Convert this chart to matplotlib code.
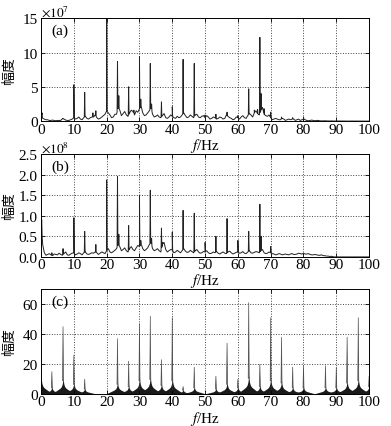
import numpy as np
import matplotlib
matplotlib.use('Agg')
import matplotlib.pyplot as plt

plt.rcParams['font.family'] = ['Liberation Serif', 'Noto Sans CJK SC']
plt.rcParams['mathtext.fontset'] = 'stix'
plt.rcParams['font.size'] = 11

base_f = np.arange(0, 101)
mid_f = np.arange(0, 100) + 0.5

# ---- panel (a), units 1e7 ----
a_base = [1.2, 0.3, 0.2, 0.1, 0.1, 0.1, 0.1, 0.3, 0.1, 0.2,
          0.5, 0.4, 0.3, 0.5, 0.4, 0.5, 0.6, 0.5, 0.4, 0.8,
          1.5, 0.9, 0.6, 1.0, 1.6, 1.1, 0.9, 1.2, 1.4, 1.5,
          1.8, 1.2, 0.9, 1.5, 1.0, 0.7, 0.6, 0.8, 0.5, 0.6,
          0.7, 0.4, 0.5, 0.9, 0.8, 0.6, 0.7, 0.9, 0.6, 0.7,
          0.5, 0.6, 0.4, 0.5, 0.4, 0.5, 0.4, 0.7, 0.4, 0.3,
          0.5, 0.6, 0.5, 0.8, 0.9, 1.2, 1.1, 1.5, 1.0, 0.7,
          0.5, 0.3, 0.3, 0.2, 0.3, 0.2, 0.2, 0.3, 0.2, 0.1,
          0.3, 0.1, 0.1, 0.1, 0.1, 0.05, 0.04, 0.03, 0.03, 0.02,
          0.02, 0.02, 0.01, 0.01, 0.01, 0.01, 0.0, 0.0, 0.0, 0.0, 0.0]
a_mid = [0.4, 0.2, 0.1, 0.15, 0.05, 0.1, 0.35, 0.15, 0.1, 0.3,
         0.3, 0.6, 0.2, 0.7, 0.3, 0.6, 0.9, 0.3, 0.6, 1.0,
         1.2, 0.5, 1.0, 2.0, 0.8, 1.4, 0.7, 1.6, 0.9, 1.3,
         2.2, 0.8, 1.2, 2.0, 0.6, 0.9, 0.5, 1.1, 0.4, 0.9,
         0.5, 0.7, 0.6, 1.2, 0.5, 0.9, 0.5, 1.0, 0.5, 0.8,
         0.8, 0.3, 0.6, 0.3, 0.6, 0.3, 0.9, 0.5, 0.2, 0.6,
         0.3, 0.8, 0.4, 1.1, 0.6, 1.5, 0.9, 2.0, 0.8, 0.9,
         0.2, 0.4, 0.2, 0.4, 0.1, 0.3, 0.3, 0.1, 0.3, 0.2,
         0.2, 0.05, 0.15, 0.05, 0.1, 0.03, 0.05, 0.02, 0.03, 0.01,
         0.02, 0.01, 0.01, 0.0, 0.01, 0.0, 0.0, 0.0, 0.0, 0.0]
a_peak_f = [0.3, 6.7, 10.0, 13.3, 15.8, 16.7, 20.0, 23.3, 23.7, 26.7, 28.3, 30.0, 30.4,
            33.3, 33.7, 36.7, 40.0, 43.3, 46.7, 50.0, 53.3, 56.7, 60.0, 63.3,
            65.0, 66.0, 66.7, 67.1, 68.0, 70.0, 73.3, 76.7, 80.0]
a_peak_h = [1.2, 0.4, 5.3, 4.2, 1.2, 1.5, 15.0, 8.7, 3.7, 5.0, 1.6, 9.4, 3.2,
            8.4, 2.5, 2.8, 2.1, 9.0, 8.4, 0.9, 1.0, 1.3, 0.8, 4.7,
            1.6, 1.7, 12.2, 4.0, 1.8, 1.3, 0.6, 0.5, 0.6]

# ---- panel (b), units 1e8 ----
b_base = [0.9, 0.1, 0.06, 0.05, 0.07, 0.05, 0.06, 0.08, 0.05, 0.07,
          0.1, 0.07, 0.08, 0.1, 0.07, 0.08, 0.09, 0.1, 0.09, 0.1,
          0.15, 0.12, 0.13, 0.2, 0.25, 0.18, 0.15, 0.2, 0.18, 0.22,
          0.25, 0.2, 0.18, 0.3, 0.2, 0.17, 0.15, 0.3, 0.18, 0.15,
          0.17, 0.12, 0.13, 0.15, 0.14, 0.12, 0.13, 0.15, 0.12, 0.1,
          0.12, 0.1, 0.09, 0.1, 0.09, 0.1, 0.09, 0.12, 0.1, 0.09,
          0.12, 0.1, 0.09, 0.12, 0.1, 0.11, 0.12, 0.15, 0.1, 0.09,
          0.1, 0.07, 0.06, 0.07, 0.06, 0.06, 0.07, 0.06, 0.07, 0.08,
          0.09, 0.07, 0.06, 0.05, 0.05, 0.04, 0.03, 0.02, 0.01, 0.005,
          0.0, 0.0, 0.0, 0.0, 0.0, 0.0, 0.0, 0.0, 0.0, 0.0, 0.0]
b_mid = [0.3, 0.04, 0.08, 0.03, 0.06, 0.09, 0.04, 0.12, 0.04, 0.09,
         0.05, 0.1, 0.05, 0.12, 0.06, 0.1, 0.12, 0.06, 0.12, 0.08,
         0.2, 0.1, 0.16, 0.3, 0.15, 0.22, 0.12, 0.25, 0.15, 0.28,
         0.32, 0.15, 0.22, 0.35, 0.15, 0.2, 0.12, 0.35, 0.12, 0.18,
         0.1, 0.16, 0.1, 0.2, 0.11, 0.16, 0.1, 0.18, 0.09, 0.13,
         0.15, 0.08, 0.12, 0.13, 0.07, 0.12, 0.08, 0.14, 0.07, 0.11,
         0.09, 0.13, 0.08, 0.15, 0.09, 0.13, 0.1, 0.18, 0.08, 0.12,
         0.08, 0.05, 0.08, 0.05, 0.07, 0.05, 0.08, 0.06, 0.09, 0.07,
         0.07, 0.08, 0.05, 0.06, 0.04, 0.05, 0.03, 0.02, 0.015, 0.0,
         0.0, 0.0, 0.0, 0.0, 0.0, 0.0, 0.0, 0.0, 0.0, 0.0]
b_peak_f = [0.2, 3.3, 6.7, 10.0, 13.3, 16.7, 20.0, 23.3, 23.7, 26.7, 30.0, 30.4,
            33.3, 33.7, 36.7, 37.1, 40.0, 43.3, 46.7, 50.0, 53.3, 56.7, 60.0,
            63.3, 66.7, 67.1, 70.0]
b_peak_h = [0.9, 0.1, 0.2, 0.95, 0.62, 0.3, 1.87, 1.95, 0.55, 0.76, 1.5, 0.4,
            1.62, 0.45, 0.7, 0.35, 0.6, 1.13, 1.06, 0.35, 0.5, 0.93, 0.4,
            0.62, 1.28, 0.5, 0.25]

# ---- panel (c) ----
c_peak_f = [0.0, 3.3, 6.7, 10.0, 13.3, 23.3, 26.7, 30.0, 33.3, 36.7, 40.0, 43.3,
            46.7, 53.3, 56.7, 60.0, 63.3, 66.7, 70.0, 73.3, 76.7, 80.0,
            86.7, 90.0, 93.3, 96.7, 100.0]
c_peak_h = [14, 15, 45, 26, 10, 37, 22, 47, 52, 23, 51, 5,
            18, 12, 34, 10, 61, 20, 51, 38, 18, 19,
            19, 18, 38, 51, 12]
c_skirt = [12, 5, 11, 8, 4, 8, 6, 11, 12, 7, 11, 3,
           5, 4, 8, 5, 13, 6, 11, 9, 5, 5,
           5, 5, 9, 11, 6]
# skirt shape of one peak (offset in Hz, fraction of skirt height)
skirt_off = [0.0, 0.1, 0.25, 0.5, 0.9, 1.4, 2.0, 2.8, 3.6]
skirt_frac = [1.0, 0.8, 0.6, 0.45, 0.35, 0.28, 0.2, 0.1, 0.0]


def spectrum(base, mid, pf, ph):
    xs = list(base_f) + list(mid_f)
    ys = list(base) + list(mid)
    order = np.argsort(xs)
    bx = np.array(xs)[order]
    by = np.array(ys)[order]
    xs, ys = list(bx), list(by)
    for f, h in zip(pf, ph):
        foot = np.interp([f - 0.12, f + 0.12], bx, by)
        xs += [f - 0.12, f, f + 0.12]
        ys += [foot[0], h, foot[1]]
    order = np.argsort(xs, kind='stable')
    return np.array(xs)[order], np.array(ys)[order]


def style(ax, ymax, yticks, ylabels, tag):
    ax.set_xlim(0, 100)
    ax.set_ylim(0, ymax)
    ax.set_xticks(range(0, 101, 10))
    ax.set_yticks(yticks)
    ax.set_yticklabels(ylabels)
    ax.grid(True, linestyle=':', color='#444444', linewidth=0.7)
    ax.tick_params(direction='in', top=True, right=True, length=3, pad=1, width=0.6)
    ax.tick_params(axis='y', pad=2.5)
    for sp in ax.spines.values():
        sp.set_linewidth(0.7)
    ax.set_xlabel('$f$/Hz', labelpad=0)
    ax.xaxis.set_label_coords(0.5, -0.14)
    ax.set_ylabel('幅度', family=['Noto Sans CJK SC'], fontsize=10)
    ax.yaxis.set_label_coords(-0.075, 0.5)
    ax.text(0.03, 0.85, tag, transform=ax.transAxes)


fig = plt.figure(figsize=(3.91, 4.27), dpi=100)
ax_a = fig.add_axes([0.105, 0.714, 0.839, 0.241])
ax_b = fig.add_axes([0.105, 0.396, 0.839, 0.241])
ax_c = fig.add_axes([0.105, 0.075, 0.839, 0.246])

x, y = spectrum(a_base, a_mid, a_peak_f, a_peak_h)
ax_a.plot(x, y, color='#222222', linewidth=0.7)
style(ax_a, 15, [0, 5, 10, 15], ['0', '5', '10', '15'], '(a)')
ax_a.text(0.0, 1.02, r'$\times10^{7}$', transform=ax_a.transAxes, fontsize=9.5)

x, y = spectrum(b_base, b_mid, b_peak_f, b_peak_h)
ax_b.plot(x, y, color='#222222', linewidth=0.7)
style(ax_b, 2.5, [0, 0.5, 1.0, 1.5, 2.0, 2.5],
      ['0.0', '0.5', '1.0', '1.5', '2.0', '2.5'], '(b)')
ax_b.text(0.0, 1.02, r'$\times10^{8}$', transform=ax_b.transAxes, fontsize=9.5)

for f, h, s in zip(c_peak_f, c_peak_h, c_skirt):
    off = np.array(skirt_off)
    fr = np.array(skirt_frac) * s
    px = np.concatenate([f - off[::-1], f + off[1:]])
    py = np.concatenate([fr[::-1], fr[1:]])
    ax_c.fill_between(px, 0, py, color='#1a1a1a', linewidth=0)
    ax_c.fill([f - 0.15, f, f + 0.15], [s * 0.8, h, s * 0.8], color='#777777', linewidth=0.5,
              edgecolor='#555555')
style(ax_c, 70, [0, 20, 40, 60], ['0', '20', '40', '60'], '(c)')

fig.savefig('out.png', dpi=100)
